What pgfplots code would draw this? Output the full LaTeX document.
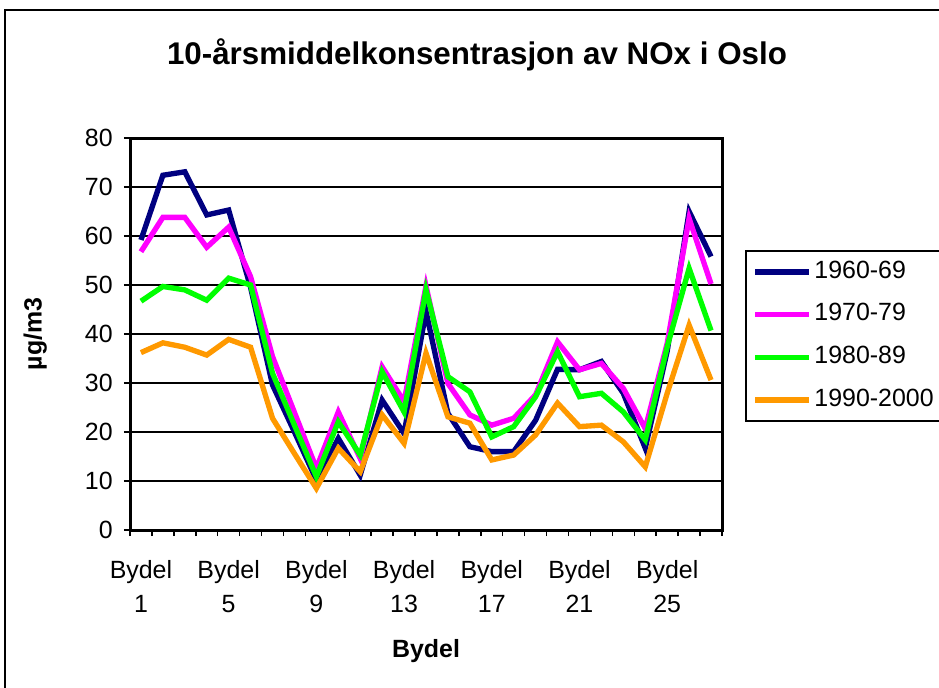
\documentclass[border=0pt]{standalone}
\usepackage{pgfplots}
\pgfplotsset{compat=1.18}
\usepackage{fontspec}
\setmainfont{Liberation Sans}
\definecolor{cA}{RGB}{0,0,128}
\definecolor{cB}{RGB}{255,0,255}
\definecolor{cC}{RGB}{0,255,0}
\definecolor{cD}{RGB}{255,153,0}
\newcommand{\lblfont}{\fontsize{18.7}{25}\selectfont}
\begin{document}
\begin{tikzpicture}[x=0.75pt,y=0.75pt]
\path[use as bounding box] (0,0) rectangle (939,687);
\draw[line width=1.5pt] (5,-20) -- (5,677) -- (960,677);
\node[font=\fontsize{23.5}{28}\selectfont\bfseries] at (477,632) {10-årsmiddelkonsentrasjon av NOx i Oslo};
\begin{axis}[
  at={(97.5pt,117.75pt)}, anchor=south west,
  scale only axis, width=444pt, height=294pt,
  xmin=0.5, xmax=27.5, ymin=0, ymax=80,
  ytick={0,10,...,80},
  xtick={1,5,9,13,17,21,25},
  xticklabels={{Bydel\\1},{Bydel\\5},{Bydel\\9},{Bydel\\13},{Bydel\\17},{Bydel\\21},{Bydel\\25}},
  minor xtick={0.5,1.5,...,27.5},
  tick align=outside,
  major tick length=4.5pt, minor tick length=4.5pt,
  major x tick style={draw=none},
  minor x tick style={black, line width=1.1pt},
  major y tick style={black, line width=1.1pt},
  xtick pos=bottom, ytick pos=left,
  ymajorgrids, major grid style={black, line width=1.1pt},
  axis line style={line width=2.25pt},
  tick label style={font=\lblfont},
  xticklabel style={align=center, yshift=-15pt},
  yticklabel style={/pgf/number format/assume math mode=true, xshift=-5pt},
  xlabel={\textbf{Bydel}}, ylabel={\textbf{µg/m3}},
  label style={font=\lblfont},
  xlabel style={at={(axis description cs:0.5,-0.31)}, anchor=center},
  ylabel style={at={(axis description cs:-0.16,0.5)}, anchor=center},
  legend style={at={(axis description cs:1.039,0.714)}, anchor=north west,
    draw=black, line width=1.1pt, font=\lblfont, row sep=10.5pt,
    inner xsep=5pt, inner ysep=5pt,
    nodes={inner sep=2pt, text height=13.5pt, text depth=4pt}},
  legend cell align=left,
  legend image code/.code={\draw[#1,line width=4pt] (0pt,0pt) -- (40.5pt,0pt);},
  every axis plot/.append style={line width=4pt, mark=none},
]
\addplot[cA] coordinates {(1,59.2)(2,72.4)(3,73.1)(4,64.3)(5,65.3)(6,49.5)(7,29.6)(8,20.0)(9,10.2)(10,18.7)(11,11.2)(12,26.5)(13,19.7)(14,44.6)(15,23.8)(16,17.0)(17,16.0)(18,16.0)(19,22.4)(20,32.8)(21,32.7)(22,34.4)(23,27.9)(24,16.7)(25,36.5)(26,65.0)(27,55.8)};
\addplot[cB] coordinates {(1,56.8)(2,63.8)(3,63.8)(4,57.7)(5,61.8)(6,51.7)(7,35.4)(8,24.0)(9,12.6)(10,24.1)(11,14.6)(12,33.3)(13,26.2)(14,49.8)(15,29.9)(16,23.5)(17,21.4)(18,22.8)(19,27.6)(20,38.4)(21,32.7)(22,34.0)(23,28.9)(24,20.7)(25,38.1)(26,63.6)(27,50.2)};
\addplot[cC] coordinates {(1,46.7)(2,49.7)(3,49.0)(4,46.9)(5,51.4)(6,50.0)(7,32.0)(8,21.4)(9,10.9)(10,22.1)(11,15.3)(12,32.3)(13,24.1)(14,49.0)(15,31.3)(16,28.2)(17,19.0)(18,21.1)(19,27.2)(20,36.4)(21,27.2)(22,27.9)(23,24.1)(24,18.4)(25,37.4)(26,53.4)(27,40.7)};
\addplot[cD] coordinates {(1,36.2)(2,38.2)(3,37.3)(4,35.7)(5,38.9)(6,37.3)(7,22.8)(8,15.6)(9,8.5)(10,16.7)(11,11.9)(12,23.5)(13,17.7)(14,36.1)(15,23.1)(16,21.8)(17,14.3)(18,15.3)(19,19.4)(20,25.9)(21,21.1)(22,21.4)(23,18.0)(24,12.9)(25,27.9)(26,41.8)(27,30.6)};
\legend{1960-69,1970-79,1980-89,1990-2000}
\end{axis}
\end{tikzpicture}
\end{document}
